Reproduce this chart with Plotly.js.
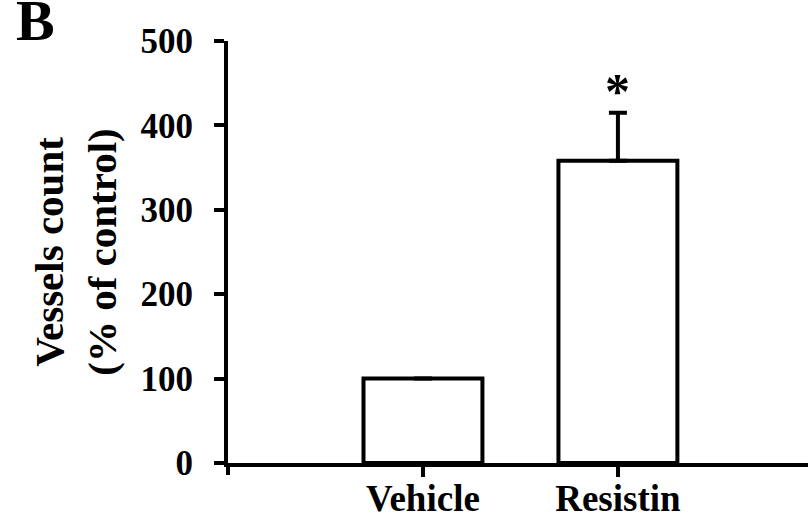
<!DOCTYPE html>
<html>
<head>
<meta charset="utf-8">
<script src="https://cdn.plot.ly/plotly-3.0.1.min.js"></script>
<style>html,body{margin:0;padding:0;background:#fff;}#chart{width:808px;height:518px;}</style>
</head>
<body>
<div id="chart"></div>
<script>
const categories = ["Vehicle", "Resistin"];
const values = [100, 358];
const errorsUp = [0, 57];
const yTicks = [0, 100, 200, 300, 400, 500];
const panelLabel = "B";
const significance = "*";
const yTitle = "Vessels count<br>(% of control)";

const FONT = "'Liberation Serif', 'Times New Roman', serif";

const trace = {
  type: "bar",
  x: categories,
  y: values,
  width: 0.61,
  marker: {color: "#ffffff", line: {color: "#000000", width: 4}},
  error_y: {type: "data", symmetric: false, array: errorsUp, arrayminus: [0, 0],
            color: "#000000", thickness: 4, width: 9},
  hoverinfo: "skip"
};

const layout = {
  width: 808, height: 518,
  margin: {l: 228, r: 0, t: 41, b: 55},
  paper_bgcolor: "#ffffff", plot_bgcolor: "#ffffff",
  showlegend: false,
  font: {family: FONT, color: "#000000"},
  xaxis: {
    type: "category", range: [-1, 1.975],
    showline: true, linecolor: "#000", linewidth: 4,
    ticks: "outside", ticklen: 10, tickwidth: 4, tickcolor: "#000",
    ticklabelstandoff: -10,
    tickfont: {family: FONT, size: 37, color: "#000", weight: "bold"},
    showgrid: false, zeroline: false, fixedrange: true
  },
  yaxis: {
    range: [0, 500], tickvals: yTicks, ticktext: yTicks.map(String),
    showline: true, linecolor: "#000", linewidth: 4,
    ticks: "outside", ticklen: 10, tickwidth: 4, tickcolor: "#000",
    ticklabelstandoff: 14,
    tickfont: {family: FONT, size: 35, color: "#000", weight: "bold"},
    showgrid: false, zeroline: false, fixedrange: true, automargin: true,
    title: {text: yTitle, standoff: 12, font: {family: FONT, size: 41, color: "#000", weight: "bold"}}
  },
  shapes: [
    {type: "line", xref: "paper", yref: "paper", x0: 0, x1: 0, y0: 0, y1: -12/422,
     line: {color: "#000", width: 4}}
  ],
  annotations: [
    {xref: "x", yref: "y", x: categories[1], y: 405, text: significance, showarrow: false,
     yanchor: "bottom", font: {family: FONT, size: 50, color: "#000", weight: "bold"}},
    {xref: "paper", yref: "paper", x: -228/580, y: 1 + 41/422, xanchor: "left", yanchor: "middle",
     xshift: 14, yshift: -20, text: panelLabel, showarrow: false,
     font: {family: FONT, size: 58, color: "#000", weight: "bold"}}
  ]
};

Plotly.newPlot("chart", [trace], layout, {displayModeBar: false, staticPlot: true});
</script>
</body>
</html>
